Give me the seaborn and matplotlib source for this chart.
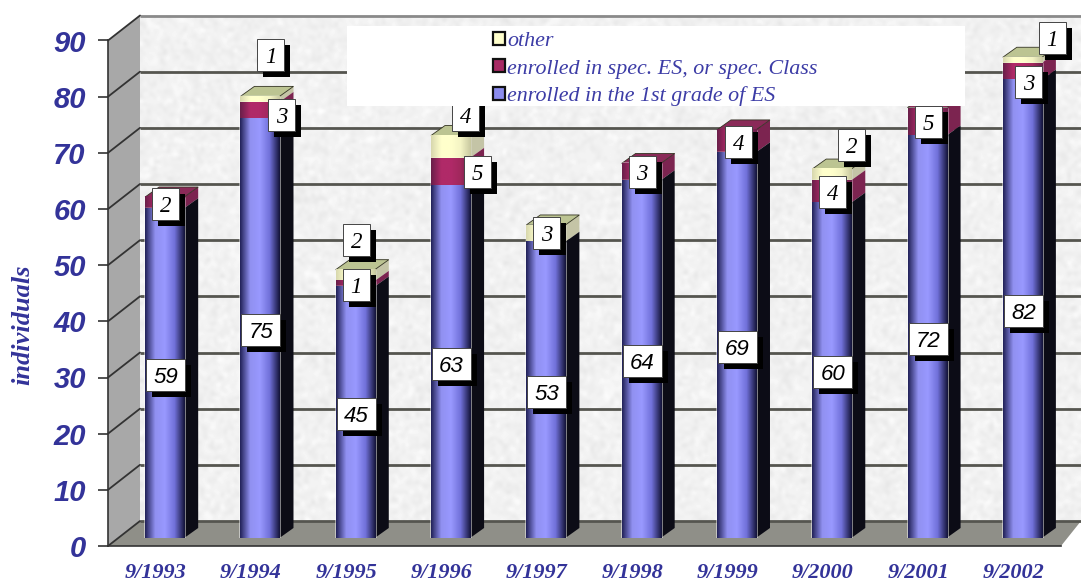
import numpy as np
import pandas as pd
import matplotlib
matplotlib.use("Agg")
import matplotlib.pyplot as plt
from matplotlib.colors import LinearSegmentedColormap
from matplotlib.patches import Patch, Polygon, Rectangle
from matplotlib.transforms import IdentityTransform
import seaborn as sns

# values
years = ["9/1993", "9/1994", "9/1995", "9/1996", "9/1997",
         "9/1998", "9/1999", "9/2000", "9/2001", "9/2002"]
first_grade = [59, 75, 45, 63, 53, 64, 69, 60, 72, 82]
special = [2, 3, 1, 5, 0, 3, 4, 4, 5, 3]
other = [0, 1, 2, 4, 3, 0, 0, 2, 0, 1]
y_ticks = [0, 10, 20, 30, 40, 50, 60, 70, 80, 90]

legend_labels = ["other", "enrolled in spec. ES, or spec. Class", "enrolled in the 1st grade of ES"]

# hand moved data labels (pixels right, pixels down)
first_nudge = [(1, 2)] * 10
special_nudge = [(1, 1), (22, 5), (1, 1), (27, 0), (0, 0), (1, 0), (2, 1), (1, 1), (1, 0), (6, 11)]
other_nudge = [(0, 0), (11, -44), (1, -35), (15, -32), (1, 0), (0, 0), (0, 0), (20, -30), (0, 0), (30, -22)]

W, H = 1081, 581
INK = "#333399"

sns.set_theme(style="white")
plt.rcParams["font.family"] = ["Liberation Sans", "DejaVu Sans"]

fig = plt.figure(figsize=(W / 100, H / 100), dpi=100, facecolor="white")


def box(left, right, top, bottom):
    # pixel box, y counted from the top of the picture
    return [left / W, 1 - bottom / H, (right - left) / W, (bottom - top) / H]


# front plane: axis, ticks, walls
ax = fig.add_axes(box(108, 1061, 40.5, 546))
ax.set_facecolor("none")
ax.set_xlim(-0.5, 9.5)
ax.set_ylim(0, 90)

deep_x = 32 / 95.3
deep_y = 25 / 5.617
right_x = (1081 - 108) / 95.3 - 0.5

side_wall = Polygon([(-0.5, 0), (-0.5, 90), (-0.5 + deep_x, 90 + deep_y), (-0.5 + deep_x, deep_y)],
                    facecolor="#a8a8a8", edgecolor="none", clip_on=False, zorder=1)
floor = Polygon([(-0.5, 0), (-0.5 + deep_x, deep_y), (right_x, deep_y), (9.5, 0)],
                facecolor="#8f8f88", edgecolor="none", clip_on=False, zorder=1)
ax.add_patch(side_wall)
ax.add_patch(floor)

# speckled back wall
rng = np.random.default_rng(4)
speckle = rng.normal(0.945, 0.022, (150, 280))
ax.imshow(speckle, extent=(-0.5 + deep_x, right_x, deep_y, 90 + deep_y), cmap="gray", vmin=0, vmax=1,
          aspect="auto", interpolation="bicubic", clip_on=False, zorder=0)
ax.set_xlim(-0.5, 9.5)
ax.set_ylim(0, 90)

for t in y_ticks:
    top_line = t == 90
    ax.plot([-0.5 + deep_x, right_x], [t + deep_y, t + deep_y], color="#8a8a8a" if top_line else "#55554f",
            lw=2, clip_on=False, zorder=2, solid_capstyle="butt")
    ax.plot([-0.5, -0.5 + deep_x], [t, t + deep_y], color="#333333", lw=1.3, clip_on=False, zorder=2)

sns.despine(ax=ax, top=True, right=True)
for name in ("left", "bottom"):
    ax.spines[name].set_color("#333333")
    ax.spines[name].set_linewidth(1.2)
ax.set_yticks(y_ticks)
ax.set_yticklabels(y_ticks, fontsize=21, fontweight="bold", fontstyle="italic", color=INK)
ax.set_xticks(range(len(years)))
ax.set_xticklabels(years, fontsize=16, fontweight="bold", fontstyle="italic", color=INK,
                   family=["Liberation Serif", "DejaVu Serif"])
ax.set_xticks(np.arange(-0.5, 10), minor=True)
ax.tick_params(axis="x", which="major", length=0, pad=12)
ax.tick_params(axis="x", which="minor", length=6, width=1.2, color="#333333")
ax.tick_params(axis="y", length=7, width=1.2, color="#333333", pad=9, left=True)
fig.text(23 / W, 1 - 325 / H, "individuals", rotation=90, ha="center", va="center", fontsize=19,
         fontweight="bold", fontstyle="italic", color=INK, family=["Liberation Serif", "DejaVu Serif"])

# bars stand a little behind the axis plane
bar_ax = fig.add_axes(box(117, 1070, 538 - 90 * 5.59, 538))
bar_ax.set_facecolor("none")
bar_ax.set_zorder(ax.get_zorder() + 1)

df = pd.DataFrame({"year": years, "first": first_grade, "special": special, "other": other})
df["to_special"] = df["first"] + df["special"]
df["total"] = df["to_special"] + df["other"]

layers = [
    ("other", "to_special", "total", ["#d8d8ae", "#ffffcc", "#ffffcc", "#f4f4c4", "#c8c8a0"], "#c4c4a6", "#bcc492"),
    ("special", "first", "to_special", ["#6a1f4a", "#b02a68", "#b02a68", "#a0285c", "#6a1f4a"], "#7c2450", "#8a2a58"),
    ("first", None, "first", ["#23235a", "#9090f0", "#9999ff", "#7070d8", "#14143a"], "#0c0c16", "#0c0c16"),
]
bar_w = 0.41
dx = 14 / 95.3
dy = 10 / 5.59

for z, (col, low_col, high_col, shades, side_col, top_col) in enumerate(layers):
    sns.barplot(data=df, x="year", y=high_col, color=shades[2], width=bar_w, saturation=1, errorbar=None,
                ax=bar_ax, order=years, zorder=3 + z)
    cyl = LinearSegmentedColormap.from_list(col, shades)
    for i, bar in enumerate(bar_ax.containers[-1]):
        if df[col][i] == 0:
            continue
        x0 = bar.get_x()
        x1 = x0 + bar.get_width()
        y1 = df[high_col][i]
        y0 = 0 if low_col is None else df[low_col][i]
        bar_ax.add_patch(Polygon([(x1, y0), (x1 + dx, y0 + dy), (x1 + dx, y1 + dy), (x1, y1)],
                                 facecolor=side_col, edgecolor="none", zorder=2 + z / 10))
        if y1 == df["total"][i]:
            bar_ax.add_patch(Polygon([(x0, y1), (x0 + dx, y1 + dy), (x1 + dx, y1 + dy), (x1, y1)],
                                     facecolor=top_col, edgecolor="#333322", lw=0.6, zorder=2.5))
        bar_ax.imshow(np.linspace(0, 1, 64)[None, :], extent=(x0, x1, y0, y1), cmap=cyl, aspect="auto",
                      zorder=3.5 + z)

bar_ax.set_xlim(-0.5, 9.5)
bar_ax.set_ylim(0, 90)
bar_ax.axis("off")


def label(col, low_col, nudges, sans):
    box_w = 39 if sans else 27
    for i, v in enumerate(df[col]):
        if v == 0:
            continue
        base = 0 if low_col is None else df[low_col][i]
        px, py = bar_ax.transData.transform((i, base + v / 2))
        px += nudges[i][0]
        py -= nudges[i][1]
        bar_ax.add_patch(Rectangle((px - box_w / 2 + 6, py - 22), box_w, 32, transform=IdentityTransform(),
                                   facecolor="black", edgecolor="none", clip_on=False, zorder=10))
        bar_ax.add_patch(Rectangle((px - box_w / 2, py - 16), box_w, 32, transform=IdentityTransform(),
                                   facecolor="white", edgecolor="#444444", lw=0.7, clip_on=False, zorder=11))
        if sans:
            bar_ax.text(px, py, str(v), transform=IdentityTransform(), ha="center", va="center_baseline",
                        fontsize=16, fontstyle="italic", color="black", clip_on=False, zorder=12)
        else:
            bar_ax.text(px, py, str(v), transform=IdentityTransform(), ha="center", va="center_baseline",
                        fontsize=16.5, fontstyle="italic", color="black", clip_on=False, zorder=12,
                        family=["Liberation Serif", "DejaVu Serif"])


label("first", None, first_nudge, True)
label("special", "first", special_nudge, False)
label("other", "to_special", other_nudge, False)

# legend sits on a white panel that hides whatever is behind it
bar_ax.add_patch(Rectangle((347, H - 106), 618, 80, transform=IdentityTransform(), facecolor="white",
                           edgecolor="none", clip_on=False, zorder=20))
handles = [Patch(facecolor=c, edgecolor="#111111", lw=1.6, label=t)
           for c, t in zip(["#ffffcc", "#a82a64", "#8c8cee"], legend_labels)]
leg = bar_ax.legend(handles=handles, loc="upper left", bbox_to_anchor=(493 / W, 1 - 32 / H),
                    bbox_transform=fig.transFigure, frameon=False, handlelength=0.55, handleheight=0.55,
                    handletextpad=0.1, labelspacing=0.36, borderpad=0, borderaxespad=0,
                    prop={"family": ["Liberation Serif", "DejaVu Serif"], "style": "italic", "size": 15.8})
for t in leg.get_texts():
    t.set_color("#3c3ca6")
leg.set_zorder(21)

fig.savefig("out.png", dpi=100)
plt.close(fig)
